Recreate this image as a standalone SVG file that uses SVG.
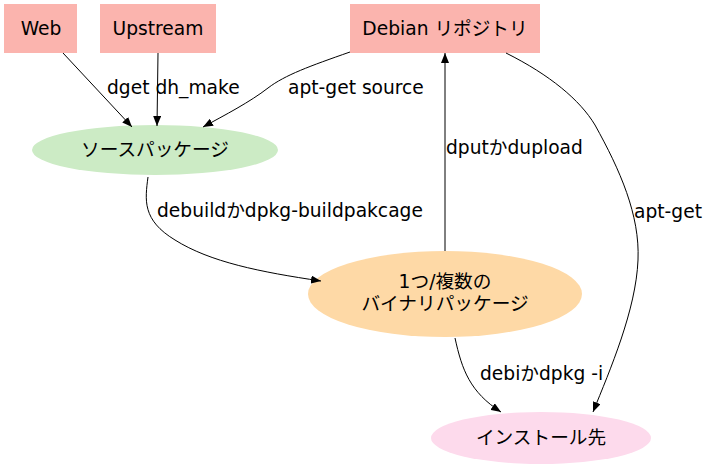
<svg xmlns="http://www.w3.org/2000/svg" width="708" height="469" viewBox="0 0 708 469">
<style>
text{font-family:"DejaVu Sans","Noto Sans CJK JP",sans-serif;font-size:18.67px;fill:#000}
.n{text-anchor:middle}
.e{fill:none;stroke:#000;stroke-width:1;marker-end:url(#a)}
</style>
<defs>
<marker id="a" markerWidth="10" markerHeight="8" refX="10" refY="4" orient="auto" markerUnits="userSpaceOnUse"><path d="M0,0 L10,4 L0,8z" fill="#000"/></marker>
</defs>
<rect width="708" height="469" fill="#fff"/>
<g id="web"><rect x="4" y="4" width="73" height="49" fill="#fbb4ae"/><text class="n" x="41" y="35">Web</text></g>
<g id="upstream"><rect x="100" y="4" width="116" height="49" fill="#fbb4ae"/><text class="n" x="158" y="35">Upstream</text></g>
<g id="debian"><rect x="350" y="4" width="190" height="49" fill="#fbb4ae"/><text class="n" x="445" y="35">Debian リポジトリ</text></g>
<g id="source"><ellipse cx="155" cy="150" rx="123" ry="25" fill="#ccebc5"/><text class="n" x="155" y="156">ソースパッケージ</text></g>
<g id="binary"><ellipse cx="445" cy="294" rx="137" ry="43" fill="#fed9a6"/><text class="n" x="445" y="288">1つ/複数の</text><text class="n" x="445" y="310">バイナリパッケージ</text></g>
<g id="install"><ellipse cx="541" cy="438" rx="110" ry="26" fill="#fddaec"/><text class="n" x="541" y="444">インストール先</text></g>
<g id="edges">
<path class="e" d="M63,53 L132,127"/>
<path class="e" d="M158,53 L157,126"/>
<path class="e" d="M350,52 C310,66 285,75 268,88 C250,102 225,115 203,127"/>
<path class="e" d="M148,177 C145,200 142,220 175,240 C210,262 260,272 321,281"/>
<path class="e" d="M445,251 L445,53"/>
<path class="e" d="M506,53 C550,75 580,100 595,125 C620,170 640,215 638,260 C636,310 610,370 593,412"/>
<path class="e" d="M455,338 C462,370 470,392 501,412"/>
<text x="107" y="94">dget dh_make</text>
<text x="288" y="94">apt-get source</text>
<text x="446" y="154">dputかdupload</text>
<text x="157" y="217">debuildかdpkg-buildpakcage</text>
<text x="634" y="218">apt-get</text>
<text x="480" y="380">debiかdpkg -i</text>
</g>
</svg>
